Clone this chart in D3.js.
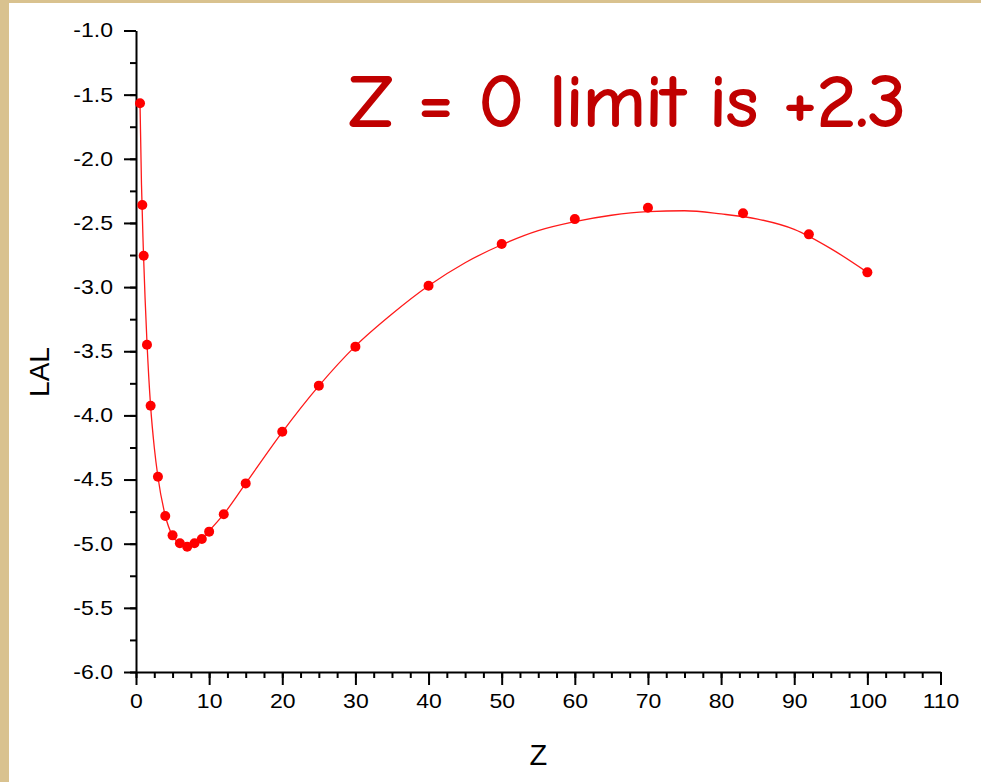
<!DOCTYPE html>
<html>
<head>
<meta charset="utf-8">
<script src="https://cdn.jsdelivr.net/npm/d3@7"></script>
<style>
  html, body { margin: 0; padding: 0; background: #d9c28f; }
  svg { display: block; }
</style>
</head>
<body>
<script>
// observed points (Z, LAL)
var zObs   = [0.55, 0.86, 1.05, 1.5, 2, 3, 4, 5, 6, 7, 8, 9, 10, 12, 15, 20, 25, 30, 40, 50, 60, 70, 83, 92, 100];
var lalObs = [-1.567, -2.36, -2.755, -3.45, -3.925, -4.478, -4.784, -4.935, -4.997, -5.023, -4.997, -4.963, -4.906,
              -4.77, -4.53, -4.127, -3.768, -3.464, -2.99, -2.664, -2.47, -2.381, -2.425, -2.589, -2.885];

// fitted curve
var zFit   = [0.55, 0.75, 1, 1.5, 2, 2.5, 3, 4, 5, 6, 7, 8, 9, 10, 12, 15, 20, 25, 30, 35, 40, 45, 50,
              55, 60, 65, 70, 75, 80, 85, 90, 95, 100];
var lalFit = [-1.57, -2.2, -2.7, -3.43, -3.93, -4.25, -4.48, -4.78, -4.94, -5.0, -5.02, -5.0, -4.96, -4.9,
              -4.77, -4.53, -4.13, -3.77, -3.46, -3.21, -2.99, -2.81, -2.67, -2.56, -2.49, -2.44, -2.412,
              -2.405, -2.43, -2.47, -2.55, -2.7, -2.885];

var xTicks = [0, 10, 20, 30, 40, 50, 60, 70, 80, 90, 100, 110];
var yTicks = [-6.0, -5.5, -5.0, -4.5, -4.0, -3.5, -3.0, -2.5, -2.0, -1.5, -1.0];

var width = 981, height = 782;
var stretch = 1.15;   // tick labels look horizontally stretched in the original

var svg = d3.select("body").append("svg")
    .attr("width", width)
    .attr("height", height);

// parchment border + white panel
svg.append("rect").attr("width", width).attr("height", height).attr("fill", "#d9c28f");
svg.append("rect").attr("x", 9).attr("y", 3).attr("width", width - 9).attr("height", height - 3).attr("fill", "#ffffff");

var x = d3.scaleLinear().domain([0, 110]).range([136, 940.5]);
var y = d3.scaleLinear().domain([-6, -1]).range([672, 30.5]);

// minor ticks first
svg.append("g")
    .attr("transform", "translate(0," + y(-6) + ")")
    .call(d3.axisBottom(x).tickValues(d3.range(0, 110.1, 2.5)).tickSize(6).tickSizeOuter(0).tickFormat(""))
    .call(g => g.select(".domain").remove());
svg.append("g")
    .attr("transform", "translate(" + x(0) + ",0)")
    .call(d3.axisLeft(y).tickValues(d3.range(-6, -0.99, 0.25)).tickSize(6).tickSizeOuter(0).tickFormat(""))
    .call(g => g.select(".domain").remove());

// major axes (plain hyphen for minus, like the original)
var xAxis = svg.append("g")
    .attr("transform", "translate(0," + y(-6) + ")")
    .call(d3.axisBottom(x).tickValues(xTicks).tickSize(13).tickSizeOuter(0).tickPadding(9)
        .tickFormat(function(d) { return String(d); }));
var yAxis = svg.append("g")
    .attr("transform", "translate(" + x(0) + ",0)")
    .call(d3.axisLeft(y).tickValues(yTicks).tickSize(12).tickSizeOuter(0).tickPadding(11)
        .tickFormat(function(d) { return d.toFixed(1); }));

svg.selectAll(".tick line").attr("stroke", "#000").attr("stroke-width", 2);
svg.selectAll(".domain").attr("stroke", "#000").attr("stroke-width", 2);
svg.selectAll(".tick text")
    .attr("fill", "#000")
    .style("font-family", "'Liberation Sans', Arial, sans-serif")
    .style("font-size", "20px");

xAxis.selectAll(".tick text").attr("transform", "scale(" + stretch + ",1)");
yAxis.selectAll(".tick text")
    .attr("x", -23 / stretch)
    .attr("transform", "scale(" + stretch + ",1)");

// axis titles
svg.append("text")
    .attr("x", x(55))
    .attr("y", 765)
    .attr("text-anchor", "middle")
    .style("font-family", "'Liberation Sans', Arial, sans-serif")
    .style("font-size", "29px")
    .text("Z");

svg.append("text")
    .attr("transform", "translate(49,372) rotate(-90)")
    .attr("text-anchor", "middle")
    .style("font-family", "'Liberation Sans', Arial, sans-serif")
    .style("font-size", "28px")
    .text("LAL");

// fit line
var line = d3.line()
    .x(function(d, i) { return x(zFit[i]); })
    .y(function(d) { return y(d); })
    .curve(d3.curveMonotoneX);

svg.append("path")
    .datum(lalFit)
    .attr("d", line)
    .attr("fill", "none")
    .attr("stroke", "#ff1a1a")
    .attr("stroke-width", 1.3);

// data points
svg.selectAll("circle.pt")
    .data(lalObs)
    .enter()
    .append("circle")
    .attr("class", "pt")
    .attr("cx", function(d, i) { return x(zObs[i]); })
    .attr("cy", function(d) { return y(d); })
    .attr("r", 5)
    .style("fill", "#ff0000");

// annotation
svg.append("text")
    .attr("x", 349)
    .attr("y", 126)
    .attr("textLength", 557)
    .attr("lengthAdjust", "spacingAndGlyphs")
    .attr("fill", "#c00000")
    .attr("stroke", "#c00000")
    .attr("stroke-width", 2)
    .attr("stroke-linejoin", "round")
    .style("font-family", "'Comic Sans MS', 'Comic Neue', 'DejaVu Sans', sans-serif")
    .style("font-size", "72px")
    .text("Z = 0 limit is +2.3");
</script>
</body>
</html>
